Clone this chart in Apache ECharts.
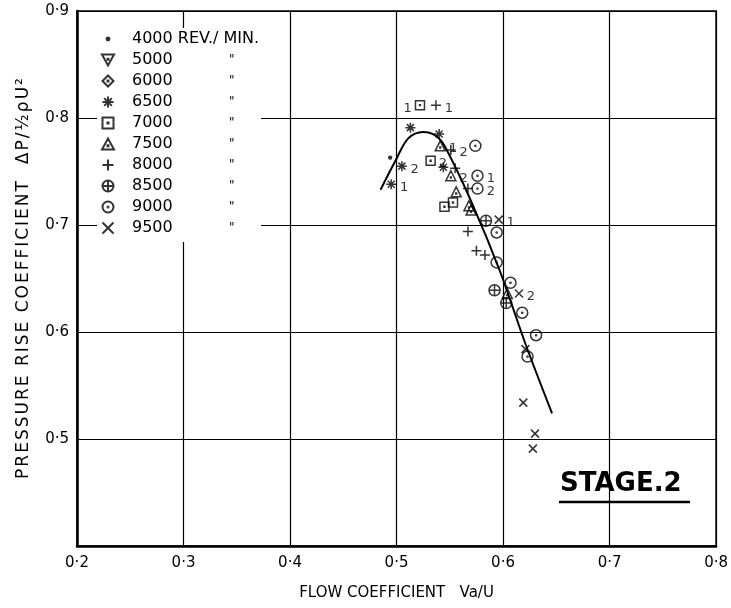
<!DOCTYPE html>
<html>
<head>
<meta charset="utf-8">
<script src="https://cdn.jsdelivr.net/npm/echarts@6/dist/echarts.min.js"></script>
<style>
html, body { margin: 0; padding: 0; background: #fff; }
#main { width: 731px; height: 608px; }
</style>
</head>
<body>
<div id="main"></div>
<script>
// speeds in the key, rev/min
var speeds = ['4000', '5000', '6000', '6500', '7000', '7500', '8000', '8500', '9000', '9500'];

// points: [flow coefficient, pressure rise coefficient, tag]
var s4000 = [[0.494, 0.763, '']];
var s5000 = [];
var s6000 = [];
var s6500 = [[0.513, 0.791, ''], [0.540, 0.785, ''], [0.505, 0.755, '2'], [0.544, 0.754, ''], [0.495, 0.738, '1']];
var s7000 = [[0.522, 0.812, '1'], [0.532, 0.760, '2'], [0.553, 0.721, ''], [0.545, 0.717, '']];
var s7500 = [[0.541, 0.774, '1'], [0.551, 0.746, '2'], [0.556, 0.731, ''], [0.568, 0.718, ''], [0.570, 0.714, ''], [0.604, 0.636, '']];
var s8000 = [[0.537, 0.812, '1'], [0.551, 0.770, '2'], [0.555, 0.753, ''], [0.567, 0.734, ''], [0.567, 0.694, ''], [0.575, 0.676, ''], [0.583, 0.672, '']];
var s8500 = [[0.584, 0.704, ''], [0.592, 0.639, ''], [0.603, 0.627, '']];
var s9000 = [[0.574, 0.774, ''], [0.576, 0.746, '1'], [0.576, 0.734, '2'], [0.594, 0.693, ''], [0.594, 0.665, ''], [0.607, 0.646, ''], [0.618, 0.618, ''], [0.631, 0.597, ''], [0.623, 0.577, '']];
var s9500 = [[0.596, 0.705, '1'], [0.615, 0.636, '2'], [0.621, 0.584, ''], [0.619, 0.534, ''], [0.630, 0.505, ''], [0.628, 0.491, '']];

// faired curve through the points
var curveX = [0.485, 0.499, 0.511, 0.525, 0.536, 0.545, 0.571, 0.597, 0.621, 0.646];
var curveY = [0.733, 0.760, 0.781, 0.787, 0.784, 0.774, 0.720, 0.657, 0.589, 0.524];

var xTicks = ['0·2', '0·3', '0·4', '0·5', '0·6', '0·7', '0·8'];
var yTicks = ['', '0·5', '0·6', '0·7', '0·8', '0·9'];

var xTitle = 'FLOW COEFFICIENT   Va/U';
var yTitle = 'PRESSURE RISE COEFFICIENT  ΔP/½ρU²';

var symbols = {
    '4000': 'path://M0,0M10,10M7.2,5A2.2,2.2 0 1 1 2.8,5A2.2,2.2 0 1 1 7.2,5Z',
    '5000': 'path://M0,0L10,0L5,9Z M4.6,3.4H5.4V4.2H4.6Z',
    '6000': 'path://M5,0L10,5L5,10L0,5Z M4.6,4.6H5.4V5.4H4.6Z',
    '6500': 'path://M5,0L5,10M0,5L10,5M1.5,1.5L8.5,8.5M8.5,1.5L1.5,8.5',
    '7000': 'path://M0,0H10V10H0Z M4.5,4.5H5.5V5.5H4.5Z',
    '7500': 'path://M5,0L10,9L0,9Z M4.6,5.6H5.4V6.4H4.6Z',
    '8000': 'path://M5,0V10M0,5H10',
    '8500': 'path://M10,5A5,5 0 1 1 0,5A5,5 0 1 1 10,5Z M5,0V10M0,5H10',
    '9000': 'path://M10,5A5,5 0 1 1 0,5A5,5 0 1 1 10,5Z M5.5,5A0.5,0.5 0 1 1 4.5,5A0.5,0.5 0 1 1 5.5,5Z',
    '9500': 'path://M0,0L10,10M10,0L0,10'
};
var sizes = {'4000': 10, '5000': 10, '6000': 10, '6500': 10, '7000': 9, '7500': 10, '8000': 10, '8500': 11, '9000': 11, '9500': 8};
var pointSets = [s4000, s5000, s6000, s6500, s7000, s7500, s8000, s8500, s9000, s9500];

var font = 'DejaVu Sans';
var myChart = echarts.init(document.getElementById('main'));

var series = speeds.map(function (name, i) {
    return {
        name: name,
        type: 'scatter',
        symbol: symbols[name],
        symbolSize: sizes[name],
        itemStyle: {
            color: name === '4000' ? '#000' : 'rgba(0,0,0,0)',
            borderColor: '#000',
            borderWidth: name === '4000' ? 0 : 1.5
        },
        label: {
            show: true,
            color: '#000',
            fontFamily: font,
            fontSize: 13,
            offset: [0, 3],
            formatter: function (p) { return p.value[2]; }
        },
        data: pointSets[i].map(function (p) {
            var left = name === '7000' && p[2] === '1';
            return { value: p, label: { position: left ? 'left' : 'right', distance: 3 } };
        }),
        z: 3
    };
});

series.push({
    name: 'curve',
    type: 'line',
    data: curveX.map(function (x, i) { return [x, curveY[i]]; }),
    smooth: 0.35,
    showSymbol: false,
    lineStyle: { color: '#000', width: 2 },
    z: 2
});

// spaced-out lettering like the hand-drawn axis title
function spaced(s) {
    return s.split('').map(function (c) { return '{c|' + c + '}'; }).join('');
}

var option = {
    animation: false,
    backgroundColor: '#fff',
    grid: {
        left: 77, right: 11, top: 11, bottom: 62,
        show: true,
        borderColor: '#000',
        borderWidth: 1.5
    },
    legend: {
        data: speeds,
        orient: 'vertical',
        left: 97,
        top: 28,
        selectedMode: false,
        backgroundColor: '#fff',
        padding: [3, 2, 6, 4],
        itemWidth: 12,
        itemHeight: 11,
        itemGap: 5,
        textStyle: {
            color: '#000',
            fontFamily: font,
            fontSize: 16,
            lineHeight: 16,
            rich: {
                s: { width: 13 },
                n: { width: 97, fontSize: 16, fontFamily: font, color: '#000' },
                r: { fontSize: 16, fontFamily: font, color: '#000' },
                d: { fontSize: 12, fontFamily: font, color: '#000' }
            }
        },
        formatter: function (name) {
            if (name === '4000') return '{s|}{r|' + name + ' REV./ MIN.}';
            return '{s|}{n|' + name + '}{d|"}';
        }
    },
    xAxis: {
        type: 'value',
        min: 0.2,
        max: 0.8,
        interval: 0.1,
        name: xTitle,
        nameLocation: 'middle',
        nameGap: 40,
        nameTextStyle: { color: '#000', fontFamily: font, fontSize: 15 },
        axisLine: { lineStyle: { color: '#000', width: 2.5 } },
        axisTick: { show: false },
        axisLabel: {
            color: '#000', fontFamily: font, fontSize: 15, margin: 10,
            formatter: function (v) { return xTicks[Math.round((v - 0.2) * 10)]; }
        },
        splitLine: { lineStyle: { color: '#000', width: 1.2 } }
    },
    yAxis: {
        type: 'value',
        min: 0.4,
        max: 0.9,
        interval: 0.1,
        name: spaced(yTitle),
        nameLocation: 'middle',
        nameGap: 45,
        nameTextStyle: {
            color: '#000', fontFamily: font, fontSize: 17,
            rich: { c: { fontSize: 17, fontFamily: font, color: '#000', padding: [0, 1] } }
        },
        axisLine: { lineStyle: { color: '#000', width: 2.5 } },
        axisTick: { show: false },
        axisLabel: {
            color: '#000', fontFamily: font, fontSize: 15, margin: 8,
            formatter: function (v) { return yTicks[Math.round((v - 0.4) * 10)]; }
        },
        splitLine: { lineStyle: { color: '#000', width: 1.2 } }
    },
    graphic: [
        {
            type: 'text',
            left: 560,
            top: 471,
            style: { text: 'STAGE.2', fill: '#000', font: 'bold 26px "DejaVu Sans"' },
            z: 10
        },
        {
            type: 'line',
            shape: { x1: 559, y1: 502, x2: 690, y2: 502 },
            style: { stroke: '#000', lineWidth: 2.5 },
            z: 10
        }
    ],
    series: series
};

myChart.setOption(option);
</script>
</body>
</html>
